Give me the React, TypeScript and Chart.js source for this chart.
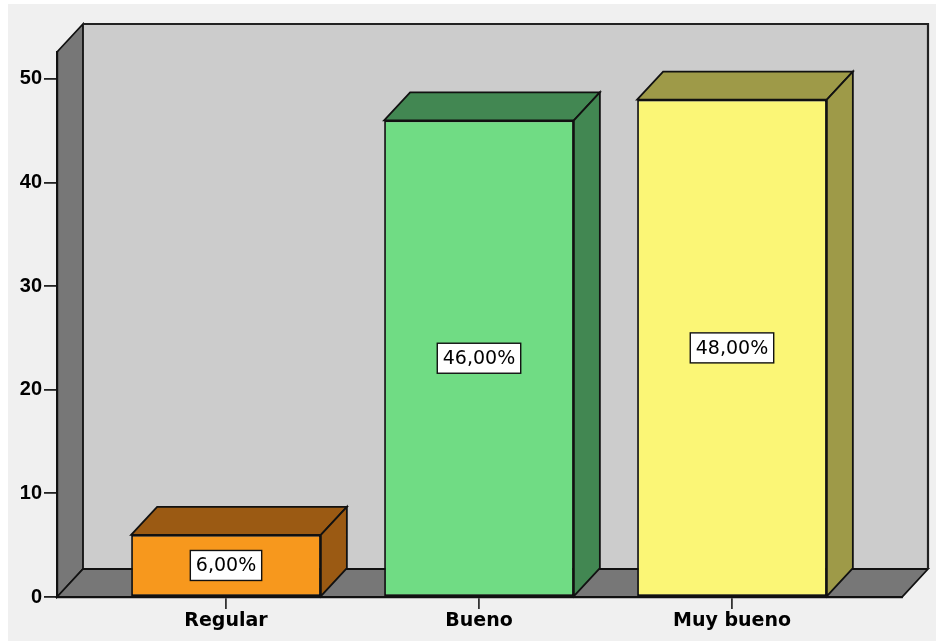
import { useEffect, useRef } from 'react';
import { Chart, registerables } from 'chart.js';

Chart.register(...registerables);

const CATEGORIES = ['Regular', 'Bueno', 'Muy bueno'];
const PERCENTS = [6, 46, 48];
const Y_TICK_STEP = 10;
const Y_MAX = 52.6;
const X_MIN = -0.668;
const X_MAX = 2.672;

const FRONT_COLORS = ['#f7981d', '#70dc84', '#fbf676'];
const SHADE_COLORS = ['#9b5a13', '#428752', '#9e9a48'];
const WALL_BACK = '#cccccc';
const WALL_SIDE = '#777777';
const DX = 26;
const DY = 28;

function poly(ctx: CanvasRenderingContext2D, pts: number[][], fill: string | null, stroke = true) {
  ctx.beginPath();
  pts.forEach(([x, y], i) => (i ? ctx.lineTo(x, y) : ctx.moveTo(x, y)));
  ctx.closePath();
  if (fill) {
    ctx.fillStyle = fill;
    ctx.fill();
  }
  if (stroke) ctx.stroke();
}

const depthPlugin = {
  id: 'depth3d',
  beforeDraw(chart: any) {
    const { ctx } = chart;
    const { left: L, right: R, top: T, bottom: B } = chart.chartArea;
    ctx.save();
    ctx.strokeStyle = '#111';
    ctx.lineWidth = 1.8;
    ctx.lineJoin = 'miter';
    ctx.fillStyle = WALL_BACK;
    ctx.fillRect(L + DX, T - DY, R - L, B - T);
    poly(ctx, [[L, T], [L + DX, T - DY], [L + DX, B - DY], [L, B]], WALL_SIDE);
    poly(ctx, [[L, B], [L + DX, B - DY], [R + DX, B - DY], [R, B]], WALL_SIDE);
    ctx.lineWidth = 2.2;
    ctx.strokeStyle = '#222';
    ctx.beginPath();
    ctx.moveTo(L + DX, T - DY);
    ctx.lineTo(R + DX, T - DY);
    ctx.lineTo(R + DX, B - DY);
    ctx.stroke();
    ctx.restore();
  },
  afterDatasetsDraw(chart: any) {
    const { ctx } = chart;
    const meta = chart.getDatasetMeta(0);
    ctx.save();
    ctx.strokeStyle = '#111';
    ctx.lineWidth = 1.8;
    ctx.lineJoin = 'miter';
    meta.data.forEach((bar: any, i: number) => {
      const { x, y, base, width } = bar.getProps(['x', 'y', 'base', 'width'], true);
      const x1 = x - width / 2;
      const x2 = x + width / 2;
      poly(ctx, [[x1, y], [x1 + DX, y - DY], [x2 + DX, y - DY], [x2, y]], SHADE_COLORS[i]);
      poly(ctx, [[x2, y], [x2 + DX, y - DY], [x2 + DX, base - DY], [x2, base]], SHADE_COLORS[i]);
      const text = PERCENTS[i].toFixed(2).replace('.', ',') + '%';
      ctx.font = '19px "DejaVu Sans"';
      const tw = ctx.measureText(text).width;
      const bw = tw + 11;
      const bh = 30;
      const cy = (y + base) / 2;
      ctx.fillStyle = '#ffffff';
      ctx.fillRect(x - bw / 2, cy - bh / 2, bw, bh);
      ctx.lineWidth = 1.4;
      ctx.strokeRect(x - bw / 2, cy - bh / 2, bw, bh);
      ctx.lineWidth = 1.8;
      ctx.fillStyle = '#000';
      ctx.textAlign = 'center';
      ctx.textBaseline = 'middle';
      ctx.fillText(text, x, cy + 1);
    });
    ctx.restore();
  },
};

export default function App() {
  const ref = useRef<HTMLCanvasElement | null>(null);
  useEffect(() => {
    if (!ref.current) return;
    const chart = new Chart(ref.current, {
      type: 'bar',
      data: {
        datasets: [
          {
            data: PERCENTS.map((v, i) => ({ x: i, y: v })),
            backgroundColor: FRONT_COLORS,
            borderColor: '#111',
            borderWidth: 1.8,
            borderSkipped: false,
            barPercentage: 0.75,
            categoryPercentage: 1,
          },
        ],
      },
      options: {
        responsive: false,
        animation: false,
        layout: { padding: { top: 48, right: 34, left: 0, bottom: 0 } },
        plugins: { legend: { display: false }, tooltip: { enabled: false } },
        scales: {
          x: {
            type: 'linear',
            min: X_MIN,
            max: X_MAX,
            offset: false,
            afterBuildTicks: (axis: any) => {
              axis.ticks = CATEGORIES.map((_, i) => ({ value: i }));
            },
            afterFit: (axis: any) => {
              axis.height = 44;
            },
            grid: { offset: false, drawOnChartArea: false, drawTicks: true, tickLength: 12, tickColor: '#333', lineWidth: 1.8 },
            border: { display: true, color: '#111', width: 2.2 },
            ticks: {
              autoSkip: false,
              maxRotation: 0,
              padding: 1,
              color: '#000',
              font: { family: '"DejaVu Sans"', size: 19, weight: 'bold' },
              callback: (v: any) => CATEGORIES[v as number] ?? '',
            },
          },
          y: {
            min: 0,
            max: Y_MAX,
            afterBuildTicks: (axis: any) => {
              axis.ticks = axis.ticks.filter((t: any) => t.value % Y_TICK_STEP === 0);
            },
            afterFit: (axis: any) => {
              axis.width = 49;
            },
            grid: { drawOnChartArea: false, drawTicks: true, tickLength: 13, tickColor: '#222', lineWidth: 1.8 },
            border: { display: true, color: '#111', width: 2.2 },
            ticks: {
              stepSize: Y_TICK_STEP,
              padding: 2,
              color: '#000',
              font: { family: '"Liberation Sans"', size: 20, weight: 'bold' },
            },
          },
        },
      },
      plugins: [depthPlugin],
    } as any);
    return () => chart.destroy();
  }, []);
  return (
    <div style={{ position: 'absolute', left: 8, top: 4, width: 928, height: 637, background: '#f0f0f0' }}>
      <canvas ref={ref} width={928} height={637} />
    </div>
  );
}
